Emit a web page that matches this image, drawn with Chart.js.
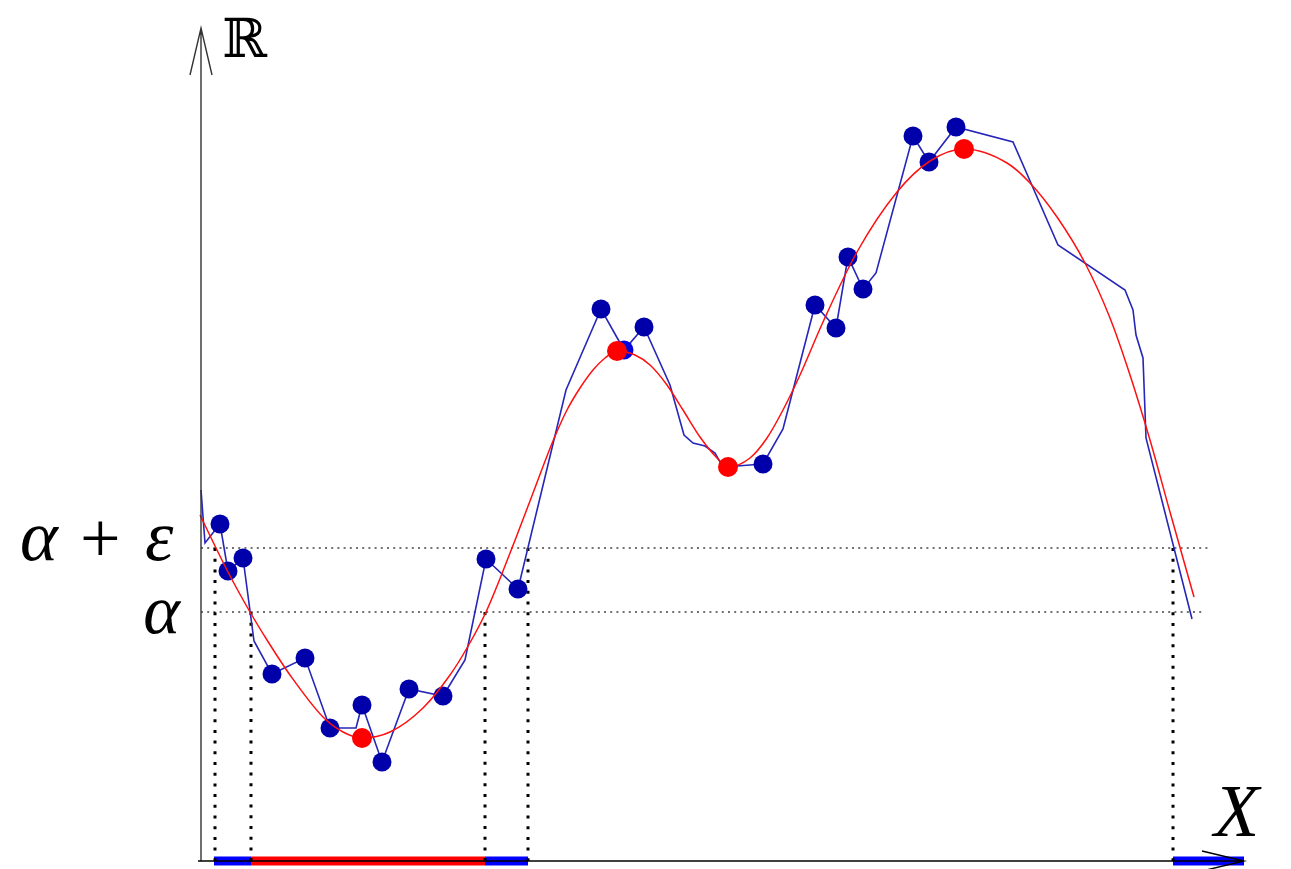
<!DOCTYPE html>
<html>
<head>
<meta charset="utf-8">
<script src="https://cdn.jsdelivr.net/npm/chart.js@4.4.1/dist/chart.umd.min.js"></script>
<style>
  html, body { margin: 0; padding: 0; background: #fff; }
  canvas { display: block; }
</style>
</head>
<body>
<canvas id="plot" width="1291" height="869"></canvas>
<script>
// noisy samples (blue), with the path that joins them
const pathX = [0, 4, 19, 27, 42, 53, 71, 104, 129, 155, 161, 181, 208, 242, 264, 285, 317, 365, 400, 423, 443, 469, 483, 492, 504, 514, 519, 536, 562, 582, 614, 635, 647, 662, 675, 712, 728, 755, 812, 857, 924, 932, 935, 942, 945, 991];
const pathY = [371, 318, 337, 290, 303, 220, 187, 203, 133, 133, 156, 99, 172, 165, 201, 302, 272, 471, 552, 511, 534, 476, 426, 418, 415, 408, 399, 395, 397, 432, 556, 533, 604, 572, 588, 725, 699, 734, 719, 616, 571, 551, 526, 503, 423, 242];
const sampleX = [19, 27, 42, 71, 104, 129, 161, 181, 208, 242, 285, 317, 400, 423, 443, 562, 614, 635, 647, 662, 712, 728, 755];
const sampleY = [337, 290, 303, 187, 203, 133, 156, 99, 172, 165, 302, 272, 552, 511, 534, 397, 556, 533, 604, 572, 725, 699, 734];

// smooth function (red) and its critical points
const curveX = [-1, 27, 49, 66, 89, 122, 142, 161, 189, 222, 249, 266, 285, 311, 329, 352, 366, 379, 392, 404, 416, 434, 449, 466, 482, 499, 516, 527, 549, 566, 582, 599, 622, 656, 696, 729, 763, 806, 829, 856, 884, 909, 929, 949, 969, 993];
const curveY = [346, 289, 249, 221, 186, 144, 129, 123, 129, 153, 186, 213, 249, 313, 360, 420, 451, 473, 491, 503, 510, 506, 496, 476, 451, 424, 403, 394, 403, 423, 451, 486, 539, 609, 669, 700, 712, 698, 678, 644, 598, 543, 486, 421, 349, 264];
const criticalX = [161, 416, 527, 763];
const criticalY = [123, 510, 394, 712];

// levels alpha + epsilon and alpha, and where the curves cross them
const levelNames = ['\u03b1', '+', '\u03b5'];
const levelValues = [313, 249];
const levelEnds = [1007, 1002];
const crossX = [14, 50, 284, 327, 972];
const crossLevel = [0, 1, 1, 0, 0];

// sub-level intervals on X
const intervalStart = [13, 50, 284, 972];
const intervalEnd = [50, 284, 327, 1043];
const intervalKind = ['eps', 'alpha', 'eps', 'eps'];

const axisXEnd = 1043;
const axisYEnd = 833;

const toPts = (xs, ys) => xs.map((x, i) => ({ x: x, y: ys[i] }));

const datasets = [];

// critical points on top
datasets.push({
    data: toPts(criticalX, criticalY),
    showLine: false,
    pointRadius: 10,
    pointBackgroundColor: '#ff0000',
    pointBorderWidth: 0,
    order: 0
});
datasets.push({
    data: toPts(curveX, curveY),
    borderColor: '#ff1010',
    borderWidth: 1.5,
    cubicInterpolationMode: 'monotone',
    pointRadius: 0,
    order: 1
});
datasets.push({
    data: toPts(sampleX, sampleY),
    showLine: false,
    pointRadius: 9.5,
    pointBackgroundColor: sampleX.map(x => x === 423 ? '#0000e0' : '#0000aa'),
    pointBorderWidth: 0,
    order: 2
});
datasets.push({
    data: toPts(pathX, pathY),
    borderColor: '#2626b8',
    borderWidth: 1.6,
    pointRadius: 0,
    order: 3
});
// vertical dotted drops
crossX.forEach((x, i) => {
    datasets.push({
        data: [{ x: x, y: levelValues[crossLevel[i]] }, { x: x, y: 0 }],
        borderColor: '#000',
        borderWidth: 3,
        borderDash: [3, 7.7],
        pointRadius: 0,
        order: 4
    });
});
// horizontal level lines
levelValues.forEach((v, i) => {
    datasets.push({
        data: [{ x: 0, y: v }, { x: levelEnds[i], y: v }],
        borderColor: '#444',
        borderWidth: 1.5,
        borderDash: [2, 4.2],
        pointRadius: 0,
        order: 5
    });
});
// intervals on the X axis
intervalStart.forEach((s, i) => {
    datasets.push({
        data: [{ x: s, y: 0 }, { x: intervalEnd[i], y: 0 }],
        borderColor: intervalKind[i] === 'alpha' ? '#ff0000' : '#0000ff',
        borderWidth: 9,
        pointRadius: 0,
        order: 6
    });
});

const axesPlugin = {
    id: 'axes',
    afterDatasetsDraw(chart) {
        const ctx = chart.ctx;
        const sx = chart.scales.x, sy = chart.scales.y;
        const x0 = sx.getPixelForValue(0), y0 = sy.getPixelForValue(0);
        const xe = sx.getPixelForValue(axisXEnd), ye = sy.getPixelForValue(axisYEnd);
        ctx.save();
        // y axis
        ctx.strokeStyle = '#333';
        ctx.lineWidth = 1.4;
        ctx.beginPath();
        ctx.moveTo(x0, y0);
        ctx.lineTo(x0, ye);
        ctx.moveTo(x0 - 11, ye + 47);
        ctx.lineTo(x0, ye);
        ctx.lineTo(x0 + 11, ye + 47);
        ctx.stroke();
        // x axis
        ctx.strokeStyle = '#000';
        ctx.lineWidth = 1.4;
        ctx.beginPath();
        ctx.moveTo(x0 - 3, y0);
        ctx.lineTo(xe, y0);
        ctx.moveTo(xe - 42, y0 - 10);
        ctx.lineTo(xe, y0);
        ctx.lineTo(xe - 42, y0 + 10);
        ctx.stroke();

        ctx.fillStyle = '#000';
        ctx.textAlign = 'left';
        ctx.textBaseline = 'alphabetic';
        ctx.font = '54px "DejaVu Serif", "DejaVu Sans"';
        ctx.fillText('\u211d', x0 + 21, ye + 29);

        ctx.font = 'italic 74px "Liberation Serif"';
        ctx.fillText('X', xe - 30, y0 - 25);

        // alpha + epsilon
        const yEps = sy.getPixelForValue(levelValues[0]) + 12;
        ctx.font = 'italic 72px "Liberation Serif"';
        ctx.fillText(levelNames[0], x0 - 181, yEps);
        ctx.fillText(levelNames[2], x0 - 56, yEps);
        ctx.font = '72px "Liberation Serif"';
        ctx.fillText(levelNames[1], x0 - 121, yEps + 2);
        // alpha
        ctx.textAlign = 'right';
        ctx.font = 'italic 70px "Liberation Serif"';
        ctx.fillText(levelNames[0], x0 - 21, sy.getPixelForValue(levelValues[1]) + 21);
        ctx.restore();
    }
};

new Chart(document.getElementById('plot'), {
    type: 'line',
    data: { datasets: datasets },
    options: {
        responsive: false,
        animation: false,
        layout: { autoPadding: false, padding: { left: 201, right: 0, top: 0, bottom: 8 } },
        scales: {
            x: { type: 'linear', min: 0, max: 1090, display: false },
            y: { type: 'linear', min: 0, max: 861, display: false }
        },
        plugins: { legend: { display: false }, tooltip: { enabled: false } },
        elements: { line: { fill: false } },
        clip: false
    },
    plugins: [axesPlugin]
});
</script>
</body>
</html>
